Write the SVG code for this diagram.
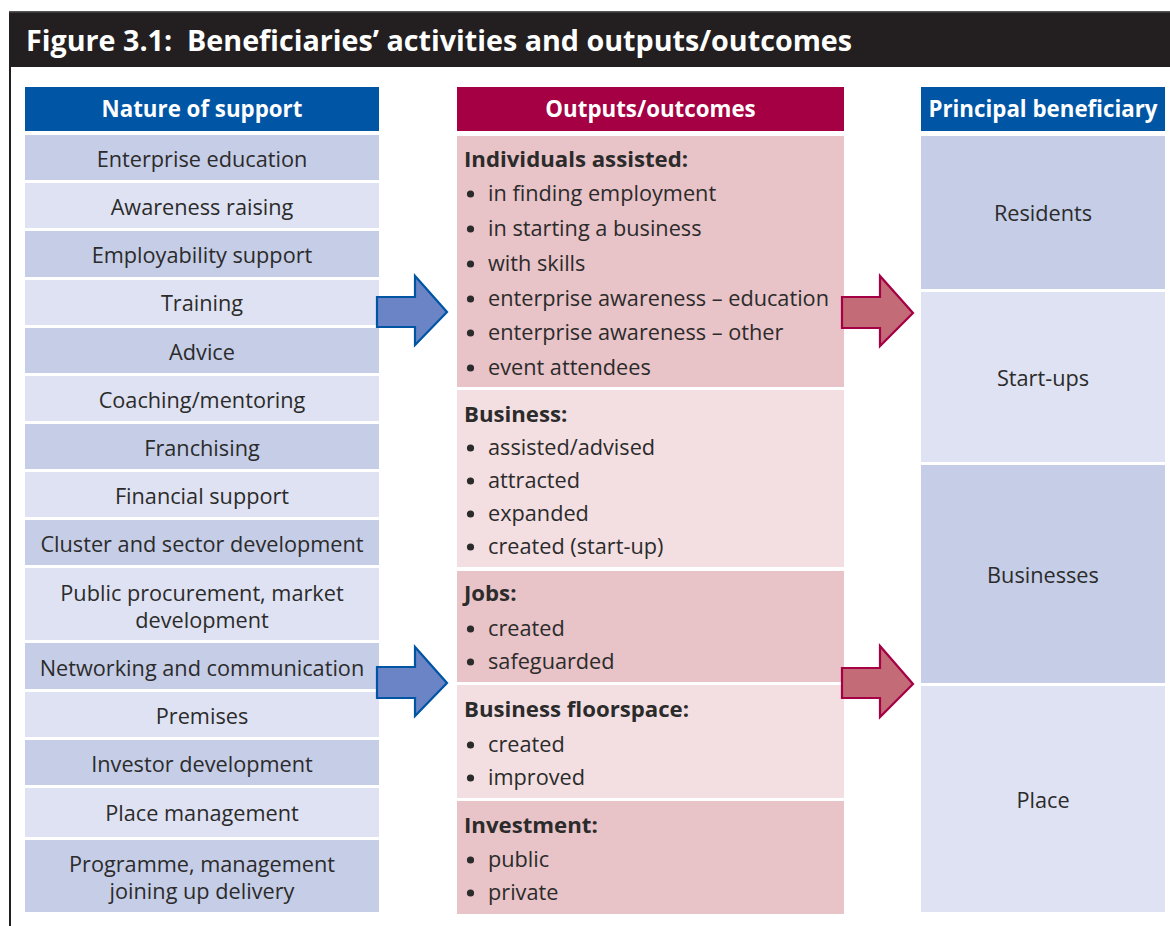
<svg xmlns="http://www.w3.org/2000/svg" width="1170" height="926" viewBox="0 0 1170 926">
<style>
.t{font-family:"Open Sans","Liberation Sans",sans-serif;fill:#2b2b2b;font-size:21.7px}
.c{text-anchor:middle}
.b{font-weight:700;font-size:22.2px}
.h{font-family:"Open Sans","Liberation Sans",sans-serif;fill:#fff;font-weight:700;font-size:22.3px;text-anchor:middle}
.dk{fill:#c6cde7}
.lt{fill:#dfe2f2}
.pd{fill:#e8c3c8}
.pl{fill:#f3dfe2}
.bu{fill:#2b2b2b}
.ab{fill:#6a84c5;stroke:#0054a4;stroke-width:2.2;stroke-linejoin:miter}
.ar{fill:#c46b78;stroke:#a50044;stroke-width:2.2;stroke-linejoin:miter}
</style>
<rect width="1170" height="926" fill="#fff"/>
<g id="frame">
<rect x="9" y="11" width="1161" height="56" fill="#231f20"/>
<rect x="9" y="11" width="1161" height="1.5" fill="#555"/>
<rect x="9" y="67" width="2" height="859" fill="#231f20"/>
<text x="26" y="51" xml:space="preserve" style="white-space:pre" font-family="Open Sans, Liberation Sans, sans-serif" font-weight="700" font-size="28.7" fill="#fff">Figure 3.1:  Beneficiaries’ activities and outputs/outcomes</text>
</g>
<g id="support">
<rect x="25" y="87" width="354" height="44" fill="#0055a5"/>
<text class="h" x="202" y="117">Nature of support</text>
<g id="s0"><rect class="dk" x="25" y="135" width="354" height="45"/><text class="t c" x="202" y="166.5">Enterprise education</text></g>
<g id="s1"><rect class="lt" x="25" y="183" width="354" height="45"/><text class="t c" x="202" y="214.5">Awareness raising</text></g>
<g id="s2"><rect class="dk" x="25" y="231" width="354" height="46"/><text class="t c" x="202" y="262.5">Employability support</text></g>
<g id="s3"><rect class="lt" x="25" y="280" width="354" height="45"/><text class="t c" x="202" y="310.5">Training</text></g>
<g id="s4"><rect class="dk" x="25" y="328" width="354" height="45"/><text class="t c" x="202" y="359.5">Advice</text></g>
<g id="s5"><rect class="lt" x="25" y="376" width="354" height="45"/><text class="t c" x="202" y="407.5">Coaching/mentoring</text></g>
<g id="s6"><rect class="dk" x="25" y="424" width="354" height="45"/><text class="t c" x="202" y="455.5">Franchising</text></g>
<g id="s7"><rect class="lt" x="25" y="472" width="354" height="45"/><text class="t c" x="202" y="503.5">Financial support</text></g>
<g id="s8"><rect class="dk" x="25" y="520" width="354" height="45"/><text class="t c" x="202" y="551.5">Cluster and sector development</text></g>
<g id="s9"><rect class="lt" x="25" y="568" width="354" height="72"/><text class="t c" x="202" y="601">Public procurement, market</text><text class="t c" x="202" y="628">development</text></g>
<g id="s10"><rect class="dk" x="25" y="643" width="354" height="46"/><text class="t c" x="202" y="675.5">Networking and communication</text></g>
<g id="s11"><rect class="lt" x="25" y="692" width="354" height="45"/><text class="t c" x="202" y="723.5">Premises</text></g>
<g id="s12"><rect class="dk" x="25" y="740" width="354" height="45"/><text class="t c" x="202" y="771.5">Investor development</text></g>
<g id="s13"><rect class="lt" x="25" y="788" width="354" height="49"/><text class="t c" x="202" y="820.5">Place management</text></g>
<g id="s14"><rect class="dk" x="25" y="840" width="354" height="72"/><text class="t c" x="202" y="872">Programme, management</text><text class="t c" x="202" y="899">joining up delivery</text></g>
</g>
<g id="outputs">
<rect x="457" y="87" width="387" height="44" fill="#a50044"/>
<text class="h" x="650.5" y="117">Outputs/outcomes</text>
<g id="o1"><rect class="pd" x="457" y="136" width="387" height="251"/>
<text class="t b" x="464" y="166.5">Individuals assisted:</text>
<g class="bu"><circle cx="470.5" cy="194" r="3.6"/><circle cx="470.5" cy="229" r="3.6"/><circle cx="470.5" cy="264" r="3.6"/><circle cx="470.5" cy="299" r="3.6"/><circle cx="470.5" cy="333" r="3.6"/><circle cx="470.5" cy="368" r="3.6"/></g>
<g class="t"><text x="488" y="201">in finding employment</text><text x="488" y="236">in starting a business</text><text x="488" y="271">with skills</text><text x="488" y="306">enterprise awareness – education</text><text x="488" y="340">enterprise awareness – other</text><text x="488" y="375">event attendees</text></g></g>
<g id="o2"><rect class="pl" x="457" y="390" width="387" height="177"/>
<text class="t b" x="464" y="422">Business:</text>
<g class="bu"><circle cx="470.5" cy="448" r="3.6"/><circle cx="470.5" cy="481" r="3.6"/><circle cx="470.5" cy="514" r="3.6"/><circle cx="470.5" cy="547" r="3.6"/></g>
<g class="t"><text x="488" y="455">assisted/advised</text><text x="488" y="488">attracted</text><text x="488" y="521">expanded</text><text x="488" y="554">created (start-up)</text></g></g>
<g id="o3"><rect class="pd" x="457" y="571" width="387" height="111"/>
<text class="t b" x="464" y="601">Jobs:</text>
<g class="bu"><circle cx="470.5" cy="629" r="3.6"/><circle cx="470.5" cy="662" r="3.6"/></g>
<g class="t"><text x="488" y="636">created</text><text x="488" y="669">safeguarded</text></g></g>
<g id="o4"><rect class="pl" x="457" y="685" width="387" height="113"/>
<text class="t b" x="464" y="717">Business floorspace:</text>
<g class="bu"><circle cx="470.5" cy="745" r="3.6"/><circle cx="470.5" cy="778" r="3.6"/></g>
<g class="t"><text x="488" y="752">created</text><text x="488" y="785">improved</text></g></g>
<g id="o5"><rect class="pd" x="457" y="801" width="387" height="113"/>
<text class="t b" x="464" y="833">Investment:</text>
<g class="bu"><circle cx="470.5" cy="860" r="3.6"/><circle cx="470.5" cy="893" r="3.6"/></g>
<g class="t"><text x="488" y="867">public</text><text x="488" y="900">private</text></g></g>
</g>
<g id="beneficiary">
<rect x="921" y="87" width="244" height="44" fill="#0055a5"/>
<text class="h" x="1043" y="117">Principal beneficiary</text>
<g id="b1"><rect class="dk" x="921" y="136" width="244" height="153"/><text class="t c" x="1043" y="221">Residents</text></g>
<g id="b2"><rect class="lt" x="921" y="292" width="244" height="170"/><text class="t c" x="1043" y="386">Start-ups</text></g>
<g id="b3"><rect class="dk" x="921" y="465" width="244" height="218"/><text class="t c" x="1043" y="583">Businesses</text></g>
<g id="b4"><rect class="lt" x="921" y="686" width="244" height="226"/><text class="t c" x="1043" y="808">Place</text></g>
</g>
<g id="connectors">
<path class="ab" d="M377,297 H415 V276 L447,312 L415,345 V327 H377 Z"/>
<path class="ab" d="M377,667 H415 V647 L447,683 L415,716 V698 H377 Z"/>
<path class="ar" d="M842,297 H880 V276 L913,313 L880,346 V328 H842 Z"/>
<path class="ar" d="M842,668 H880 V646 L913,684 L880,717 V698 H842 Z"/>
</g>
</svg>
